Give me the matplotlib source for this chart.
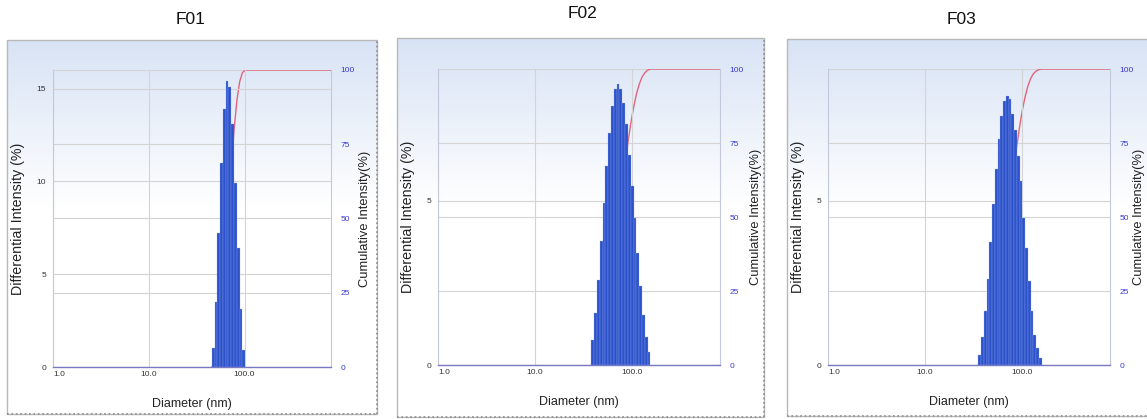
import numpy as np
import matplotlib.pyplot as plt
from matplotlib.colors import LinearSegmentedColormap
from matplotlib.lines import Line2D
from matplotlib.patches import Rectangle
from matplotlib.ticker import NullLocator

plt.rcParams['font.family'] = ['Liberation Sans', 'DejaVu Sans']

# データ
titles = ['F01', 'F02', 'F03']

# differential intensity (%) per size bin
f01_vals = [1.0, 3.5, 7.2, 11.0, 13.9, 15.4, 15.1, 13.1, 9.9, 6.4, 3.1, 0.9]
f02_vals = [0.76, 1.58, 2.59, 3.76, 4.93, 6.05, 7.06, 7.87, 8.38, 8.54, 8.38,
            7.98, 7.32, 6.40, 5.44, 4.47, 3.40, 2.39, 1.52, 0.86, 0.41]
f03_vals = [0.30, 0.86, 1.64, 2.63, 3.74, 4.90, 5.96, 6.87, 7.58, 8.03, 8.18,
            8.08, 7.62, 7.16, 6.35, 5.59, 4.47, 3.56, 2.54, 1.63, 0.91, 0.51, 0.20]

# lowest / highest bin edge (nm)
f01_range = (45.5, 101.7)
f02_range = (37.9, 153.8)
f03_range = (35.3, 158.0)

left_ymax = [16, 9, 9]
left_ticks = [[0, 5, 10, 15], [0, 5], [0, 5]]
right_ticks = [0, 25, 50, 75, 100]
x_ticks = [1, 10, 100]
x_ticklabels = ['1.0', '10.0', '100.0']
x_max = 800

values = [f01_vals, f02_vals, f03_vals]
ranges = [f01_range, f02_range, f03_range]

# レイアウト（ピクセル）
W, H = 1147, 419
frames = [(7, 40, 377, 414), (397, 38, 764, 417), (787, 39, 1152, 416)]
axes_px = [(53, 70, 331, 367), (438, 69, 720, 365), (828, 69, 1110, 365)]
title_pos = [(191, 20), (583, 14), (962, 19)]
ylab_x = [-0.10, -0.082, -0.082]
ylab2_x = [1.10, 1.106, 1.082]

bar_color = '#2c52cb'
cum_color = '#e2647c'
grid_color = '#d4d4d4'
blue_text = '#3a3acc'


def frac(x0, y0, x1, y1):
    return [x0 / W, 1 - y1 / H, (x1 - x0) / W, (y1 - y0) / H]


fig = plt.figure(figsize=(W / 100, H / 100), dpi=100)

grad_cmap = LinearSegmentedColormap.from_list('bg', ['#d8e3f5', '#ffffff'])
grad = np.clip(np.linspace(0, 1, 200) / 0.45, 0, 1).reshape(-1, 1)

for i in range(3):
    # 背景パネル
    bg = fig.add_axes(frac(*frames[i]))
    bg.imshow(grad, aspect='auto', cmap=grad_cmap, extent=(0, 1, 0, 1), origin='upper')
    bg.set_xlim(0, 1)
    bg.set_ylim(0, 1)
    bg.axis('off')
    bg.add_patch(Rectangle((0, 0), 1, 1, transform=bg.transAxes, fill=False,
                           edgecolor='#b8b8b8', lw=1.0, clip_on=False))
    bg.add_line(Line2D([1, 1], [0, 1], transform=bg.transAxes, color='#8c8c8c',
                       lw=1.2, ls=':', clip_on=False))
    bg.add_line(Line2D([0, 1], [0, 0], transform=bg.transAxes, color='#8c8c8c',
                       lw=1.2, ls=':', clip_on=False))

    fig.text(title_pos[i][0] / W, 1 - title_pos[i][1] / H, titles[i],
             ha='center', va='center', fontsize=12.5, color='#111111')

    vals = np.array(values[i])
    lo, hi = ranges[i]
    edges = np.geomspace(lo, hi, len(vals) + 1)

    ax = fig.add_axes(frac(*axes_px[i]))
    ax.set_xscale('log')
    ax2 = ax.twinx()
    ax.set_zorder(ax2.get_zorder() + 1)
    ax.patch.set_visible(False)
    ax2.patch.set_visible(False)

    # 棒グラフ
    ax.bar(edges[:-1], vals, width=np.diff(edges), align='edge', color=bar_color,
           edgecolor='#9fb0ea', linewidth=0.2, zorder=3)

    # 累積曲線
    cum = np.concatenate([[0], np.cumsum(vals) / vals.sum() * 100])
    ax2.plot(np.append(edges, x_max), np.append(cum, 100), color=cum_color, lw=1.0)

    ax.set_xlim(1, x_max)
    ax.set_ylim(0, left_ymax[i])
    ax2.set_ylim(0, 100)

    ax.set_xticks(x_ticks)
    ax.set_xticklabels(x_ticklabels)
    ax.xaxis.set_minor_locator(NullLocator())
    ax.get_xticklabels()[0].set_ha('left')
    ax.set_yticks(left_ticks[i])
    ax2.set_yticks(right_ticks)

    ax.tick_params(axis='x', length=0, pad=3, labelsize=6, colors='#333333')
    ax.tick_params(axis='y', length=0, pad=5, labelsize=6, colors='#333333')
    ax2.tick_params(axis='y', length=0, pad=7, labelsize=6, colors=blue_text)

    ax.grid(True, axis='both', color=grid_color, lw=0.8, zorder=0)
    ax2.grid(True, axis='y', color=grid_color, lw=0.8)
    ax.set_axisbelow(True)

    for s in ax2.spines.values():
        s.set_visible(False)
    ax.spines['top'].set_visible(False)
    ax.spines['left'].set_color('#c4c8dc')
    ax.spines['right'].set_color('#c4c8dc')
    ax.spines['bottom'].set_color('#7a7ac4')
    ax.spines['bottom'].set_linewidth(1.0)

    ax.set_xlabel('Diameter (nm)', fontsize=9, color='#222222')
    ax.xaxis.set_label_coords(0.5, -0.105)
    ax.set_ylabel('Differential Intensity (%)', fontsize=10.3, color='#222222')
    ax.yaxis.set_label_coords(ylab_x[i], 0.5)
    ax2.set_ylabel('Cumulative Intensity(%)', fontsize=9.3, color='#222222')
    ax2.yaxis.set_label_coords(ylab2_x[i], 0.5)

# 保存
fig.savefig('out.png', dpi=100)
